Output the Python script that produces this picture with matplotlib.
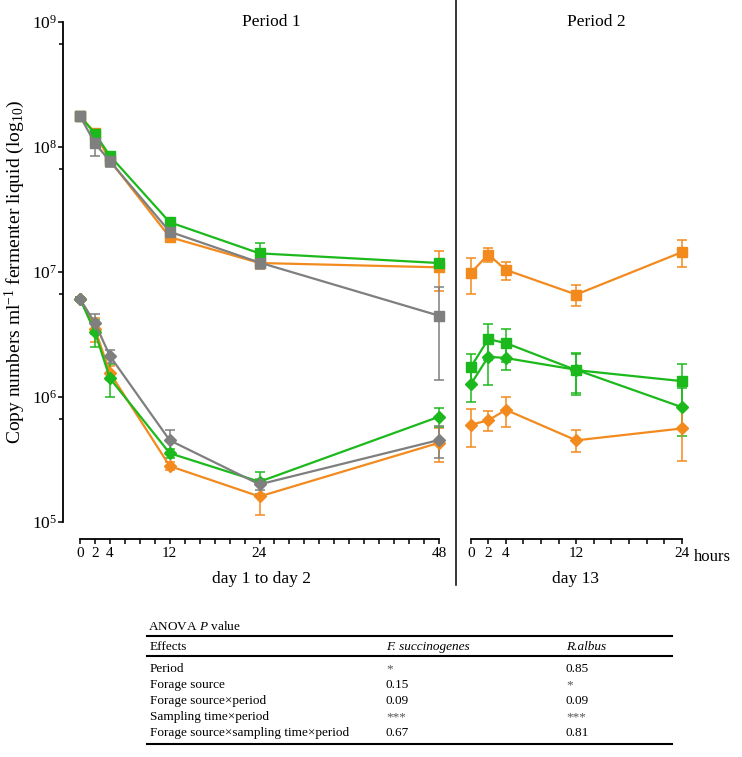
import matplotlib
matplotlib.use("Agg")
import matplotlib.pyplot as plt
from matplotlib.lines import Line2D

plt.rcParams['font.family'] = ['Liberation Serif', 'DejaVu Serif']
plt.rcParams['mathtext.fontset'] = 'custom'
plt.rcParams['mathtext.rm'] = 'Liberation Serif'
plt.rcParams['mathtext.it'] = 'Liberation Serif:italic'

# sampling hours
hours_p1 = [0, 2, 4, 12, 24, 48]
hours_p2 = [0, 2, 4, 12, 24]

# period 1, squares
orange_sq_p1 = [1.77e8, 1.30e8, 7.8e7, 1.9e7, 1.18e7, 1.09e7]
orange_sq_p1_sd = [0.0, 0.09e8, 0.5e7, 0.1e7, 0.1e7, 0.39e7]
green_sq_p1 = [1.77e8, 1.28e8, 8.5e7, 2.5e7, 1.41e7, 1.18e7]
green_sq_p1_sd = [0.0, 0.05e8, 0.4e7, 0.15e7, 0.3e7, 0.05e7]
grey_sq_p1 = [1.77e8, 1.07e8, 7.7e7, 2.1e7, 1.19e7, 4.47e6]
grey_sq_p1_sd = [0.0, 0.22e8, 0.8e7, 0.1e7, 0.14e7, 3.1e6]

# period 1, diamonds
orange_di_p1 = [6.1e6, 3.5e6, 1.56e6, 2.8e5, 1.6e5, 4.3e5]
orange_di_p1_sd = [0.2e6, 0.75e6, 0.2e6, 0.2e5, 0.46e5, 1.3e5]
green_di_p1 = [6.1e6, 3.3e6, 1.41e6, 3.55e5, 2.1e5, 6.95e5]
green_di_p1_sd = [0.2e6, 0.8e6, 0.41e6, 0.3e5, 0.42e5, 1.15e5]
grey_di_p1 = [6.1e6, 3.9e6, 2.13e6, 4.5e5, 2.0e5, 4.53e5]
grey_di_p1_sd = [0.2e6, 0.7e6, 0.25e6, 0.9e5, 0.2e5, 1.28e5]

# period 2
orange_sq_p2 = [9.8e6, 1.38e7, 1.04e7, 6.6e6, 1.44e7]
orange_sq_p2_sd = [3.1e6, 1.7e6, 1.7e6, 1.3e6, 3.5e6]
green_sq_p2 = [1.73e6, 2.9e6, 2.7e6, 1.64e6, 1.34e6]
green_sq_p2_sd = [0.48e6, 0.94e6, 0.8e6, 0.57e6, 0.5e6]
green_di_p2 = [1.26e6, 2.1e6, 2.05e6, 1.65e6, 8.3e5]
green_di_p2_sd = [0.34e6, 0.85e6, 0.41e6, 0.61e6, 3.4e5]
orange_di_p2 = [6.0e5, 6.5e5, 7.9e5, 4.5e5, 5.6e5]
orange_di_p2_sd = [2.0e5, 1.2e5, 2.1e5, 0.9e5, 2.5e5]

# ANOVA table
effects = ['Period', 'Forage source', 'Forage source\u00d7period',
           'Sampling time\u00d7period', 'Forage source\u00d7sampling time\u00d7period']
p_fs = ['*', '0.15', '0.09', '***', '0.67']
p_ra = ['0.85', '*', '0.09', '***', '0.81']

ORANGE = '#F28A1E'
GREEN = '#1CB91C'
GREY = '#7F7F7F'

W, H = 742, 757
fig = plt.figure(figsize=(W / 100, H / 100), dpi=100)


def fx(x):
    return x / W


def fy(y):
    return 1 - y / H


ax1 = fig.add_axes([fx(63), fy(522), (456 - 63) / W, 500 / H])
ax2 = fig.add_axes([fx(456), fy(522), (742 - 456) / W, 500 / H])


def series(ax, x, y, sd, color, marker, ms):
    ax.errorbar(x, y, yerr=sd, color=color, marker=marker, ms=ms, lw=1.6,
                elinewidth=1.1, capsize=3.5, capthick=1.1, mec=color, mfc=color)


series(ax1, hours_p1, orange_sq_p1, orange_sq_p1_sd, ORANGE, 's', 6.5)
series(ax1, hours_p1, green_sq_p1, green_sq_p1_sd, GREEN, 's', 6.5)
series(ax1, hours_p1, grey_sq_p1, grey_sq_p1_sd, GREY, 's', 6.5)
series(ax1, hours_p1, orange_di_p1, orange_di_p1_sd, ORANGE, 'D', 6)
series(ax1, hours_p1, green_di_p1, green_di_p1_sd, GREEN, 'D', 6)
series(ax1, hours_p1, grey_di_p1, grey_di_p1_sd, GREY, 'D', 6)

series(ax2, hours_p2, orange_sq_p2, orange_sq_p2_sd, ORANGE, 's', 6.5)
series(ax2, hours_p2, green_sq_p2, green_sq_p2_sd, GREEN, 's', 6.5)
series(ax2, hours_p2, green_di_p2, green_di_p2_sd, GREEN, 'D', 6)
series(ax2, hours_p2, orange_di_p2, orange_di_p2_sd, ORANGE, 'D', 6)

for ax in (ax1, ax2):
    ax.set_yscale('log')
    ax.set_ylim(1e5, 1e9)
    ax.set_facecolor('none')
    ax.spines['top'].set_visible(False)
    ax.spines['right'].set_visible(False)
    ax.spines['bottom'].set_position(('outward', 12.2))
    ax.spines['bottom'].set_linewidth(1.3)
    ax.tick_params(axis='x', direction='out', length=3.5, width=1.1,
                   labelsize=11, pad=2)

ax1.set_xlim(-(80 - 63) / 7.48, 48 + (456 - 439) / 7.48)
ax2.set_xlim(-(470.7 - 456) / 8.79, 24 + (742 - 681.7) / 8.79)

ax1.spines['bottom'].set_bounds(0, 48)
ax1.set_xticks(range(0, 49, 2))
ax1.set_xticklabels([str(h) if h in hours_p1 else '' for h in range(0, 49, 2)])

ax2.spines['bottom'].set_bounds(0, 24)
ax2.set_xticks(range(0, 25, 2))
ax2.set_xticklabels([str(h) if h in hours_p2 else '' for h in range(0, 25, 2)])
ax2.spines['left'].set_visible(False)
ax2.set_yticks([])
ax2.minorticks_off()
ax2.tick_params(axis='y', which='both', left=False, labelleft=False)

ax1.spines['left'].set_linewidth(1.3)
ax1.set_yticks([1e5, 1e6, 1e7, 1e8, 1e9])
ax1.set_yticklabels(['$10^{%d}$' % k for k in range(5, 10)])
ax1.set_yticks([10 ** (k - 0.172) for k in range(6, 10)], minor=True)
ax1.tick_params(axis='y', which='major', direction='out', length=3.5, width=1.1,
                labelsize=12.5, pad=1)
ax1.tick_params(axis='y', which='minor', direction='out', length=3, width=1.1,
                labelleft=False)
ax1.set_ylabel('Copy numbers ml$^{-1}$ fermenter liquid (log$_{10}$)',
               fontsize=14, labelpad=3)

# divider between periods
fig.add_artist(Line2D([fx(456), fx(456)], [fy(0), fy(585)], color='black', lw=1.1))

fig.text(fx(271), fy(22), 'Period 1', ha='center', va='center', fontsize=12.5)
fig.text(fx(596), fy(22), 'Period 2', ha='center', va='center', fontsize=12.5)
fig.text(fx(694), fy(557), 'hours', ha='left', va='center', fontsize=12)
fig.text(fx(261), fy(579), 'day 1 to day 2', ha='center', va='center', fontsize=12.5)
fig.text(fx(576), fy(579), 'day 13', ha='center', va='center', fontsize=12.5)

# table
tx0, tx1 = 147, 672
c1, c2 = 386, 566
fs = 9.5
fig.text(fx(tx0 + 1), fy(627), 'ANOVA $\\it{P}$ value', ha='left', va='center', fontsize=fs)
fig.add_artist(Line2D([fx(tx0), fx(tx1)], [fy(636), fy(636)], color='black', lw=1.5))
fig.text(fx(tx0 + 3), fy(647), 'Effects', ha='left', va='center', fontsize=fs)
fig.text(fx(c1), fy(647), 'F. succinogenes', ha='left', va='center', fontsize=fs, style='italic')
fig.text(fx(c2), fy(647), 'R.albus', ha='left', va='center', fontsize=fs, style='italic')
fig.add_artist(Line2D([fx(tx0), fx(tx1)], [fy(656), fy(656)], color='black', lw=1.5))
row_y = [669, 685, 701, 717, 733]
for ry, eff, a, b in zip(row_y, effects, p_fs, p_ra):
    fig.text(fx(tx0 + 3), fy(ry), eff, ha='left', va='center', fontsize=fs)
    fig.text(fx(c1), fy(ry), a, ha='left', va='center', fontsize=fs,
             color='#555555' if '*' in a else 'black')
    fig.text(fx(c2), fy(ry), b, ha='left', va='center', fontsize=fs,
             color='#555555' if '*' in b else 'black')
fig.add_artist(Line2D([fx(tx0), fx(tx1)], [fy(744), fy(744)], color='black', lw=1.5))

fig.savefig('out.png', dpi=100)
